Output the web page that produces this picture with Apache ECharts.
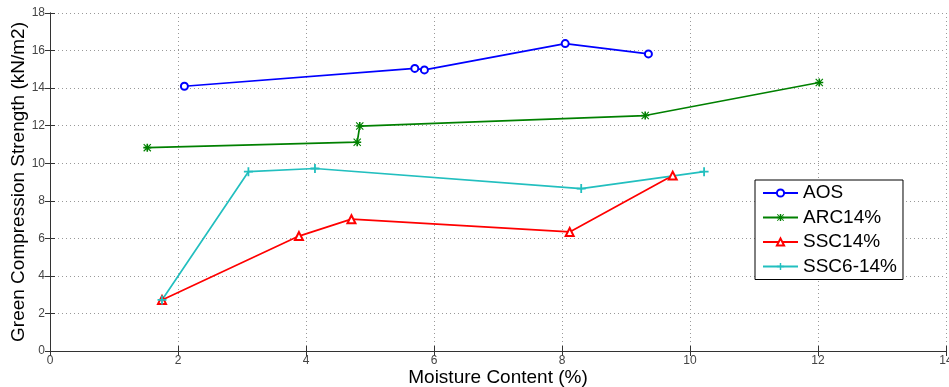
<!DOCTYPE html>
<html>
<head>
<meta charset="utf-8">
<script src="https://cdn.jsdelivr.net/npm/echarts@6/dist/echarts.min.js"></script>
<style>html,body{margin:0;padding:0;background:#fff}#c{width:949px;height:387px}</style>
</head>
<body>
<div id="c"></div>
<script>
var seriesNames = ['AOS', 'ARC14%', 'SSC14%', 'SSC6-14%'];
var aosX = [2.1, 5.7, 5.85, 8.05, 9.35];
var aosY = [14.1, 15.05, 14.97, 16.37, 15.82];
var arcX = [1.52, 4.8, 4.84, 9.3, 12.02];
var arcY = [10.83, 11.12, 11.98, 12.54, 14.3];
var sscX = [1.75, 3.89, 4.71, 8.12, 9.73];
var sscY = [2.72, 6.12, 7.02, 6.34, 9.34];
var ssc6X = [1.75, 3.1, 4.14, 8.3, 10.22];
var ssc6Y = [2.72, 9.55, 9.72, 8.65, 9.55];
var xTicks = [0, 2, 4, 6, 8, 10, 12, 14];
var yTicks = [0, 2, 4, 6, 8, 10, 12, 14, 16, 18];

function pairs(xs, ys) { return xs.map(function (x, i) { return [x, ys[i]]; }); }

var FONT = '"Liberation Sans", Arial, sans-serif';
var plusPath = 'path://M4,0h2v4h4v2h-4v4h-2v-4h-4v-2h4z';
var starPath = 'path://M4,0h2v10h-2z M0,4h10v2h-10z M1,0L10,9L9,10L0,1z M9,0L10,1L1,10L0,9z';

var axisLine = { show: true, lineStyle: { color: '#333', width: 1 } };
var chart = echarts.init(document.getElementById('c'), null, { renderer: 'canvas' });
chart.setOption({
  animation: false,
  backgroundColor: '#fff',
  grid: { left: 50, top: 13, right: 3, bottom: 36, containLabel: false, outerBoundsMode: 'none' },
  xAxis: [{
    type: 'value', min: xTicks[0], max: xTicks[xTicks.length - 1], interval: 2,
    name: 'Moisture Content (%)', nameLocation: 'middle', nameGap: 17, nameMoveOverlap: false,
    nameTextStyle: { fontFamily: FONT, fontSize: 19, color: '#000' },
    axisLine: axisLine,
    axisTick: { show: true, inside: true, length: 5, lineStyle: { color: '#333' } },
    axisLabel: { fontFamily: FONT, fontSize: 12, color: '#444', margin: 4 },
    splitLine: { show: true, lineStyle: { color: '#999', type: [1, 3], width: 1 } }
  }, {
    type: 'value', position: 'top', min: 0, max: 14, interval: 2,
    axisLine: axisLine,
    axisTick: { show: true, inside: true, length: 5, lineStyle: { color: '#333' } },
    axisLabel: { show: false }, splitLine: { show: false }
  }],
  yAxis: [{
    type: 'value', min: yTicks[0], max: yTicks[yTicks.length - 1], interval: 2,
    name: 'Green Compression Strength (kN/m2)', nameLocation: 'middle', nameGap: 22, nameMoveOverlap: false,
    nameTextStyle: { fontFamily: FONT, fontSize: 19, color: '#000' },
    axisLine: axisLine,
    axisTick: { show: true, inside: true, length: 5, lineStyle: { color: '#333' } },
    axisLabel: { fontFamily: FONT, fontSize: 12, color: '#444', margin: 5 },
    splitLine: { show: true, lineStyle: { color: '#999', type: [1, 3], width: 1 } }
  }, {
    type: 'value', position: 'right', min: 0, max: 18, interval: 2,
    axisLine: axisLine,
    axisTick: { show: true, inside: true, length: 5, lineStyle: { color: '#333' } },
    axisLabel: { show: false }, splitLine: { show: false }
  }],
  legend: {
    orient: 'vertical', left: 755, top: 180,
    backgroundColor: '#fff', borderColor: '#000', borderWidth: 1,
    padding: [3, 6, 3, 7], itemGap: 4.5, itemWidth: 35, itemHeight: 9,
    textStyle: { fontFamily: FONT, fontSize: 19, color: '#000', lineHeight: 20 },
    data: seriesNames
  },
  series: [
    { name: seriesNames[0], type: 'line', data: pairs(aosX, aosY), color: '#0000ff',
      symbol: 'emptyCircle', symbolSize: 7, lineStyle: { width: 1.7 }, itemStyle: { borderWidth: 1.3 } },
    { name: seriesNames[1], type: 'line', data: pairs(arcX, arcY), color: '#008000',
      symbol: starPath, symbolSize: 8, lineStyle: { width: 1.7 } },
    { name: seriesNames[2], type: 'line', data: pairs(sscX, sscY), color: '#ff0000',
      symbol: 'emptyTriangle', symbolSize: 8, lineStyle: { width: 1.7 }, itemStyle: { borderWidth: 1.3 } },
    { name: seriesNames[3], type: 'line', data: pairs(ssc6X, ssc6Y), color: '#22bfbf',
      symbol: plusPath, symbolSize: 9, lineStyle: { width: 1.7 } }
  ]
});
</script>
</body>
</html>
